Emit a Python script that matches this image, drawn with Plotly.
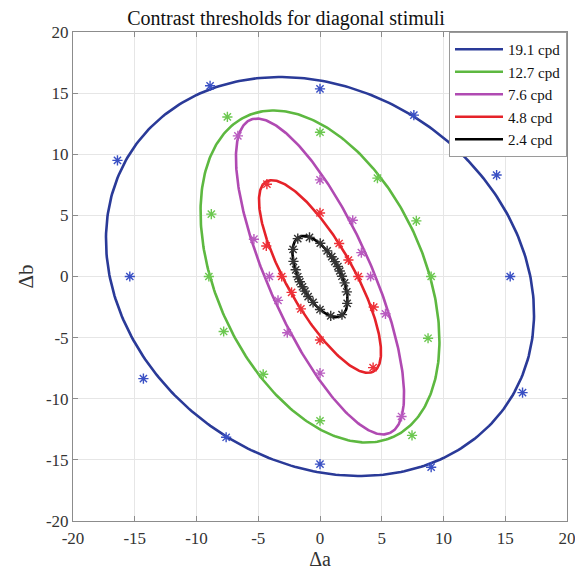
import numpy as np
import plotly.graph_objects as go

# ---------------- data ----------------
series_names = ["19.1 cpd", "12.7 cpd", "7.6 cpd", "4.8 cpd", "2.4 cpd"]

# fitted ellipses: semi-axes and tilt of the major axis
semi_major = [18.4, 14.4, 14.0, 8.9, 3.65]
semi_minor = [15.1, 8.4, 4.15, 2.7, 1.65]
tilt_deg = [-36.0, -65.8, -66.2, -60.8, -62.5]

# measured thresholds (stars)
blue_da = [15.4, 14.3, 7.6, 0.0, -8.9, -16.4, -15.4, -14.3, -7.6, 0.0, 9.0, 16.4]
blue_db = [0.0, 8.3, 13.2, 15.35, 15.6, 9.5, 0.0, -8.35, -13.15, -15.35, -15.6, -9.5]

green_da = [9.0, 7.8, 4.65, 0.0, -7.5, -8.8, -9.0, -7.8, -4.6, 0.0, 7.45, 8.75]
green_db = [0.0, 4.55, 8.05, 11.8, 13.05, 5.1, 0.0, -4.5, -8.0, -11.8, -13.0, -5.05]

magenta_da = [4.1, 3.35, 2.65, 0.0, -6.65, -5.35, -4.1, -3.4, -2.65, 0.0, 6.6, 5.3]
magenta_db = [0.0, 1.95, 4.6, 7.9, 11.5, 3.05, 0.0, -1.95, -4.6, -7.9, -11.45, -3.05]

red_da = [3.1, 2.3, 1.55, 0.0, -4.3, -4.35, -3.1, -2.3, -1.55, 0.0, 4.3, 4.35]
red_db = [0.0, 1.35, 2.7, 5.2, 7.55, 2.5, 0.0, -1.3, -2.65, -5.2, -7.45, -2.5]

black_da = [1.78, 1.6, 1.45, 1.2, 0.95, 0.58, 0.02, -0.85, -1.8, -2.18, -2.15, -1.97,
            -1.8, -1.63, -1.42, -1.22, -0.96, -0.56, 0.0, 0.87, 1.78, 2.2, 2.17, 1.99]
black_db = [0.02, 0.45, 0.82, 1.22, 1.62, 2.1, 2.72, 3.2, 3.1, 2.22, 1.24, 0.55,
            -0.02, -0.43, -0.84, -1.2, -1.64, -2.12, -2.7, -3.22, -3.12, -2.2, -1.26, -0.52]

star_da = [blue_da, green_da, magenta_da, red_da, black_da]
star_db = [blue_db, green_db, magenta_db, red_db, black_db]

line_colors = ["#2A3A98", "#5DB840", "#B04AB2", "#E52229", "#000000"]
star_colors = ["#3A50C4", "#6CC850", "#B95CC0", "#EE3038", "#333333"]

tick_vals = [-20, -15, -10, -5, 0, 5, 10, 15, 20]
tick_text = ["-20", "-15", "-10", "-5", "0", "5", "10", "15", "20"]

# ---------------- figure ----------------
SERIF = "Liberation Serif, Times New Roman, serif"
fig = go.Figure()

t = np.linspace(0, 2 * np.pi, 361)
for name, a, b, th, col in zip(series_names, semi_major, semi_minor, tilt_deg, line_colors):
    r = np.deg2rad(th)
    x = a * np.cos(t) * np.cos(r) - b * np.sin(t) * np.sin(r)
    y = a * np.cos(t) * np.sin(r) + b * np.sin(t) * np.cos(r)
    fig.add_trace(go.Scatter(x=x, y=y, mode="lines", name=name,
                             line=dict(color=col, width=2.6)))

for name, xs, ys, col in zip(series_names, star_da, star_db, star_colors):
    fig.add_trace(go.Scatter(x=xs, y=ys, mode="markers", showlegend=False, name=name,
                             marker=dict(symbol="asterisk-open", size=8.5, color=col,
                                         line=dict(color=col, width=1.4))))

axis_common = dict(
    range=[-20, 20], tickvals=tick_vals, ticktext=tick_text,
    showgrid=True, gridcolor="#E6E6E6", gridwidth=1, zeroline=False,
    showline=True, linecolor="#8C8C8C", linewidth=1, mirror="ticks",
    ticks="inside", ticklen=5, tickcolor="#8C8C8C",
    tickfont=dict(family=SERIF, size=17, color="#333333"),
    automargin=False,
)

# page body has an 8px margin, so the figure is sized/offset to compensate
fig.update_layout(
    width=575, height=562,
    margin=dict(l=65, r=16, t=24, b=49, autoexpand=False),
    paper_bgcolor="white", plot_bgcolor="white",
    title=dict(text="Contrast thresholds for diagonal stimuli",
               font=dict(family=SERIF, size=20, color="#111111"),
               x=0.4835, xanchor="center", y=0.982, yanchor="middle"),
    xaxis=dict(**axis_common, ticklabelstandoff=2,
               title=dict(text="Δa", font=dict(family=SERIF, size=20, color="#333333"),
                          standoff=4)),
    yaxis=dict(**axis_common,
               title=dict(text="Δb", font=dict(family=SERIF, size=21, color="#333333"),
                          standoff=6)),
    legend=dict(x=1, y=1, xanchor="right", yanchor="top",
                bgcolor="white", bordercolor="#9A9A9A", borderwidth=1,
                font=dict(family=SERIF, size=15, color="#111111"),
                itemwidth=48, tracegroupgap=0),
    showlegend=True,
)

fig.write_html("out.html")
